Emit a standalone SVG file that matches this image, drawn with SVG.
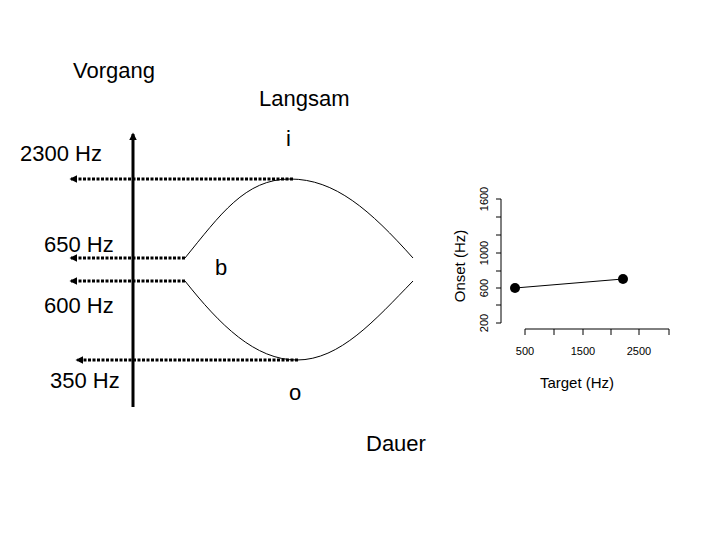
<svg xmlns="http://www.w3.org/2000/svg" width="720" height="540" viewBox="0 0 720 540">
<defs>
<marker id="ah" viewBox="0 0 10 10" refX="8" refY="5" markerWidth="2.6" markerHeight="2.6" orient="auto"><path d="M0,0L10,5L0,10z" fill="#000"/></marker>
</defs>
<style>
text{font-family:"Liberation Sans",Arial,sans-serif;fill:#000}
.big{font-size:22px}
.sm{font-size:11px}
.dot{stroke:#000;stroke-width:3;stroke-dasharray:3,1.5;fill:none}
.c{stroke:#000;stroke-width:1;fill:none}
</style>
<rect width="720" height="540" fill="#fff"/>
<g id="labels">
<text class="big" x="73" y="78">Vorgang</text>
<text class="big" x="259" y="106">Langsam</text>
<text class="big" x="286" y="146">i</text>
<text class="big" x="20" y="161">2300 Hz</text>
<text class="big" x="44" y="252">650 Hz</text>
<text class="big" x="215" y="275">b</text>
<text class="big" x="44" y="313">600 Hz</text>
<text class="big" x="50" y="388">350 Hz</text>
<text class="big" x="289" y="400">o</text>
<text class="big" x="366" y="451">Dauer</text>
</g>
<g id="axis"><line x1="133" y1="407" x2="133" y2="134" stroke="#000" stroke-width="3" marker-end="url(#ah)"/></g>
<g id="curves">
<path class="c" d="M185,258 C220,215 245,179 290,179 C335,179 370,210 413,258"/>
<path class="c" d="M185,281 C220,325 255,360 297,360 C340,360 375,320 413,281"/>
</g>
<g id="connectors">
<line class="dot" x1="293" y1="179" x2="71" y2="179" marker-end="url(#ah)"/>
<line class="dot" x1="185" y1="258" x2="71" y2="258" marker-end="url(#ah)"/>
<line class="dot" x1="185" y1="281" x2="71" y2="281" marker-end="url(#ah)"/>
<line class="dot" x1="298" y1="360" x2="77" y2="360" marker-end="url(#ah)"/>
</g>
<g id="plot">
<path d="M501,199V323M496,199H501M496,217H501M496,235H501M496,253H501M496,271H501M496,288H501M496,305H501M496,323H501" stroke="#000" fill="none"/>
<path d="M525,329H669M525,329V335M554,329V335M583,329V335M611,329V335M639,329V335M669,329V335" stroke="#000" fill="none"/>
<text class="sm" transform="translate(488,323) rotate(-90)" text-anchor="middle">200</text>
<text class="sm" transform="translate(488,288) rotate(-90)" text-anchor="middle">600</text>
<text class="sm" transform="translate(488,253) rotate(-90)" text-anchor="middle">1000</text>
<text class="sm" transform="translate(488,199) rotate(-90)" text-anchor="middle">1600</text>
<text class="sm" x="525" y="355" text-anchor="middle">500</text>
<text class="sm" x="583" y="355" text-anchor="middle">1500</text>
<text class="sm" x="639" y="355" text-anchor="middle">2500</text>
<text transform="translate(465,266) rotate(-90)" text-anchor="middle" font-size="15">Onset (Hz)</text>
<text x="577" y="388" text-anchor="middle" font-size="15">Target (Hz)</text>
<line x1="515" y1="288" x2="623" y2="279" stroke="#000"/>
<circle cx="515" cy="288" r="5"/>
<circle cx="623" cy="279" r="5"/>
</g>
</svg>
